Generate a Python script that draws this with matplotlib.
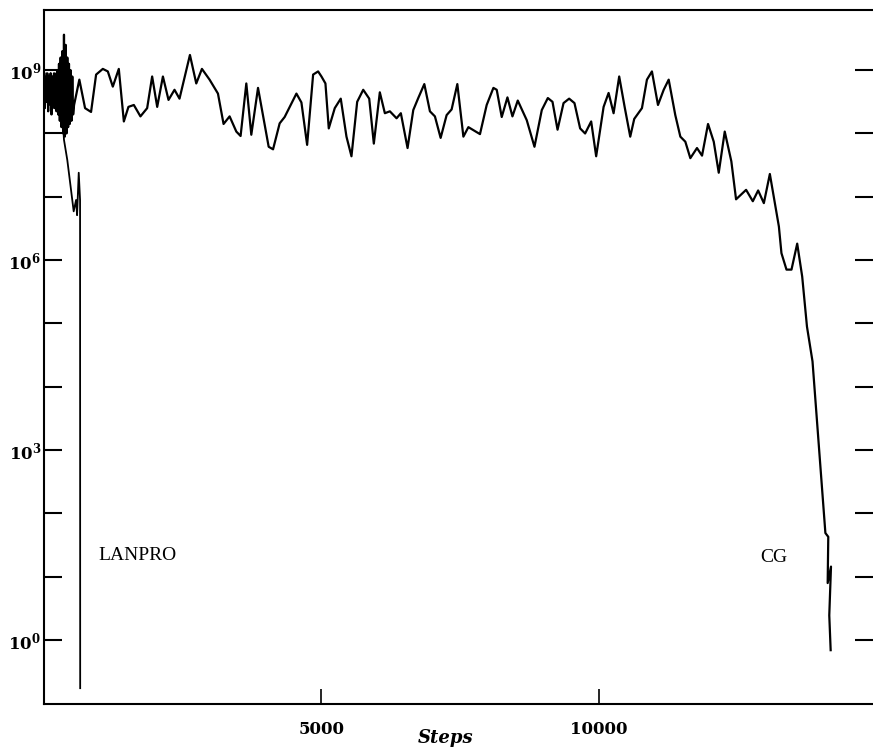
import numpy as np
import matplotlib
matplotlib.use("Agg")
import matplotlib.pyplot as plt
from matplotlib.ticker import FixedLocator, FuncFormatter, NullLocator

# ---------------- data ----------------
# LANPRO: steps and log10 of the plotted quantity
lanpro_steps = [0, 20, 40, 60, 80, 100, 120, 140, 160, 180, 200, 220, 240, 260,
                280, 300, 320, 340, 360, 420, 487, 535, 578, 596, 626, 650, 652]
lanpro_log10 = [8.95, 8.6, 8.95, 8.5, 8.9, 8.45, 8.95, 8.55, 8.9, 8.4, 8.95, 8.5,
                8.9, 8.45, 8.95, 8.3, 8.9, 8.2, 7.9, 7.58, 7.11, 6.77, 6.95, 6.71,
                7.38, 6.95, -0.76]

# CG: steps and log10 of the plotted quantity
cg_steps = [0, 15, 30, 45, 60, 75, 90, 105, 120, 135, 150, 165, 180, 195, 210, 225,
            240, 255, 270, 285, 300, 315, 330, 345, 360, 375, 390, 405, 420, 435,
            450, 465, 480, 495, 510, 525, 542,
            637, 740, 848, 939, 1060, 1150, 1240, 1348, 1439, 1522, 1619, 1738,
            1859, 1949, 2040, 2143, 2244, 2352, 2442, 2630, 2744, 2846, 2984, 3135,
            3236, 3345, 3466, 3543, 3646, 3736, 3857, 4049, 4128, 4247, 4337, 4549,
            4639, 4742, 4850, 4940, 5000, 5072, 5132, 5240, 5348, 5451, 5541, 5644,
            5753, 5861, 5944, 6052, 6143, 6233, 6354, 6431, 6552, 6655, 6745, 6854,
            6955, 7045, 7148, 7256, 7346, 7449, 7558, 7648, 7857, 7978, 8099, 8159,
            8249, 8352, 8442, 8538, 8700, 8839, 8971, 9080, 9164, 9255, 9363, 9464,
            9560, 9662, 9752, 9861, 9951, 10085, 10175, 10265, 10366, 10464, 10565,
            10637, 10776, 10866, 10956, 11065, 11168, 11258, 11377, 11468, 11558,
            11648, 11768, 11859, 11967, 12070, 12160, 12268, 12387, 12472, 12653,
            12774, 12870, 12973, 13081, 13182, 13244, 13290, 13381, 13471, 13574,
            13664, 13750, 13850, 14082, 14134, 14123, 14183, 14152, 14177]
cg_log10 = [8.95, 8.4, 8.9, 8.5, 8.95, 8.35, 8.9, 8.55, 8.95, 8.3, 8.9, 8.45, 8.95,
            8.4, 8.9, 8.35, 9.0, 8.3, 9.1, 8.2, 9.2, 8.1, 9.3, 8.0, 9.56, 7.95, 9.4,
            8.0, 9.2, 8.1, 9.1, 8.15, 9.0, 8.2, 8.9, 8.3, 8.45,
            8.85, 8.40, 8.34, 8.93, 9.02, 8.98, 8.74, 9.02, 8.19, 8.42, 8.45, 8.27,
            8.40, 8.90, 8.42, 8.90, 8.53, 8.69, 8.55, 9.24, 8.79, 9.02, 8.85, 8.63,
            8.15, 8.27, 8.03, 7.96, 8.79, 7.98, 8.72, 7.79, 7.75, 8.16, 8.26, 8.63,
            8.49, 7.82, 8.93, 8.98, 8.90, 8.79, 8.08, 8.40, 8.55, 7.95, 7.64, 8.50,
            8.69, 8.55, 7.84, 8.65, 8.32, 8.35, 8.24, 8.32, 7.77, 8.37, 8.56, 8.78,
            8.35, 8.27, 7.93, 8.29, 8.38, 8.78, 7.95, 8.10, 7.99, 8.45, 8.72, 8.69,
            8.26, 8.57, 8.27, 8.52, 8.21, 7.79, 8.37, 8.56, 8.50, 8.06, 8.48, 8.55,
            8.48, 8.08, 8.00, 8.19, 7.64, 8.42, 8.64, 8.32, 8.90, 8.42, 7.95,
            8.23, 8.40, 8.85, 8.98, 8.45, 8.69, 8.85, 8.29, 7.95, 7.87,
            7.61, 7.77, 7.65, 8.15, 7.87, 7.38, 8.03, 7.56, 6.96, 7.11,
            6.93, 7.10, 6.90, 7.36, 6.85, 6.53, 6.11, 5.85, 5.85, 6.26,
            5.74, 4.95, 4.40, 1.69, 1.63, 0.90, 1.16, 0.39, -0.16]

y_tick_exponents = [0, 1, 2, 3, 4, 5, 6, 7, 8, 9]
y_labelled_exponents = [0, 3, 6, 9]
x_ticks = [5000, 10000]
x_tick_labels = ["5000", "10000"]

# ---------------- figure ----------------
plt.rcParams["mathtext.fontset"] = "dejavuserif"
fig = plt.figure(figsize=(8.73, 7.49), dpi=100)
W, H = 873, 749
ax = fig.add_axes([44 / W, (H - 704) / H, (873 - 44) / W, (704 - 10) / H])

ax.plot(lanpro_steps, 10.0 ** np.array(lanpro_log10), color="black", lw=1.3)
ax.plot(cg_steps, 10.0 ** np.array(cg_log10), color="black", lw=1.6)

ax.set_yscale("log")
ax.set_xlim(0, 14940)
ax.set_ylim(10 ** -1.01, 10 ** 9.95)

ax.yaxis.set_major_locator(FixedLocator([10.0 ** k for k in y_tick_exponents]))
ax.yaxis.set_minor_locator(NullLocator())


def ylab(v, pos):
    k = int(round(np.log10(v)))
    if k in y_labelled_exponents:
        return r"$\mathbf{10^{%d}}$" % k
    return ""


ax.yaxis.set_major_formatter(FuncFormatter(ylab))
ax.set_xticks(x_ticks)
ax.set_xticklabels(x_tick_labels)
ax.xaxis.set_minor_locator(NullLocator())

for sp in ["left", "top", "bottom"]:
    ax.spines[sp].set_linewidth(1.5)
ax.spines["right"].set_visible(False)

ax.tick_params(axis="y", which="major", direction="in", length=13, width=1.5,
               left=True, right=True, pad=2, labelsize=12)
ax.tick_params(axis="x", which="major", direction="in", length=11, width=1.2,
               bottom=True, top=False, pad=12, labelsize=12)
for lab in ax.get_xticklabels():
    lab.set_fontfamily("DejaVu Serif")
    lab.set_fontweight("bold")

ax.set_xlabel("Steps", fontfamily="DejaVu Serif", fontweight="bold",
              fontstyle="italic", fontsize=13)
ax.xaxis.set_label_coords(0.484, -0.036)

ax.text(975, 10 ** 1.26, "LANPRO", fontfamily="Liberation Serif", fontsize=14,
        ha="left", va="baseline")
ax.text(12906, 10 ** 1.23, "CG", fontfamily="Liberation Serif", fontsize=14,
        ha="left", va="baseline")

fig.savefig("out.png", dpi=100)
